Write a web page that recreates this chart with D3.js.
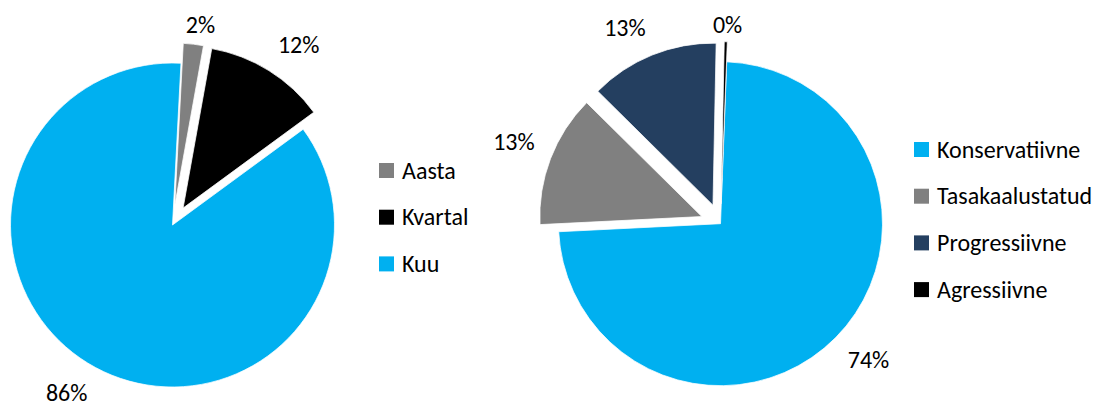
<!DOCTYPE html>
<html><head><meta charset="utf-8">
<script src="https://cdn.jsdelivr.net/npm/d3@7"></script>
<style>
body{margin:0;background:#fff}
svg{display:block}
text{font-family:Carlito, Calibri, Lato, "Open Sans", sans-serif; fill:#000}
</style>
</head><body>
<svg id="c" width="1103" height="407"></svg>
<script>
// ---- data ----
const leftCategories = ["Aasta", "Kvartal", "Kuu"];
const leftValues = [2.0, 12.1, 85.9];
const leftColors = ["#808080", "#000000", "#00B0F0"];
const leftExploded = [true, true, false];

const rightCategories = ["Konservatiivne", "Tasakaalustatud", "Progressiivne", "Agressiivne"];
const rightValues = [73.6, 13.2, 12.9, 0.3];
const rightColors = ["#00B0F0", "#808080", "#243F60", "#000000"];
const rightExploded = [false, true, true, true];

// ---- layout ----
const W = 1103, H = 407;
const R = 162, EXPLODE = 20;
const FONT = 24;
const svg = d3.select("#c");

function drawPie(cfg) {
  const data = cfg.categories.map((c, i) => ({cat: c, value: cfg.values[i], color: cfg.colors[i], ex: cfg.exploded[i]}));
  const rot = cfg.rotDeg * Math.PI / 180;
  const pie = d3.pie().sort(null).value(d => d.value).startAngle(rot).endAngle(rot + 2 * Math.PI);
  const arcs = pie(data);
  const arc = d3.arc().innerRadius(0).outerRadius(R);
  const g = svg.append("g").attr("transform", `translate(${cfg.cx},${cfg.cy})`);
  const fmt = d3.format(".0f");
  arcs.forEach(a => {
    const mid = (a.startAngle + a.endAngle) / 2;
    const ux = Math.sin(mid), uy = -Math.cos(mid);
    const off = a.data.ex ? EXPLODE : 0;
    const ox = ux * off, oy = uy * off;
    g.append("path")
      .attr("d", arc(a))
      .attr("transform", `translate(${ox},${oy})`)
      .attr("fill", a.data.color)
      .attr("stroke", "#fff").attr("stroke-width", 0.75);
    // label (outside end)
    const t = g.append("text")
      .attr("font-size", FONT)
      .text(fmt(a.data.value) + "%");
    const w = t.node().getComputedTextLength();
    const h = FONT * 0.9;
    const d = R + 17;
    const px = ox + ux * d, py = oy + uy * d;
    const sx = Math.max(-1, Math.min(1, ux * 3));
    const sy = Math.max(-1, Math.min(1, uy * 3));
    let cxl = px + sx * w / 2;
    let cyl = py + sy * h / 2;
    // keep inside chart area
    const absTop = cfg.cy + cyl - h / 2;
    if (absTop < 14) cyl += 14 - absTop;
    const base = cyl + FONT * 0.33;
    let baseAbs = cfg.cy + base;
    let by = base;
    if (baseAbs > H - 2) by -= baseAbs - (H - 2);
    t.attr("x", cxl).attr("y", by).attr("text-anchor", "middle");
  });
  // legend
  const lg = svg.append("g");
  data.forEach((d, i) => {
    const top = cfg.legendTop + i * 46.7;
    lg.append("rect").attr("x", cfg.legendX).attr("y", top).attr("width", 15).attr("height", 15).attr("fill", d.color);
    lg.append("text").attr("x", cfg.legendX + 23).attr("y", top + 15.5).attr("font-size", FONT).text(d.cat);
  });
}

drawPie({categories: leftCategories, values: leftValues, colors: leftColors, exploded: leftExploded,
  cx: 172.5, cy: 225, rotDeg: 3, legendX: 379, legendTop: 163});
drawPie({categories: rightCategories, values: rightValues, colors: rightColors, exploded: rightExploded,
  cx: 720.5, cy: 223.7, rotDeg: 2.2, legendX: 914, legendTop: 142});
</script>
</body></html>
